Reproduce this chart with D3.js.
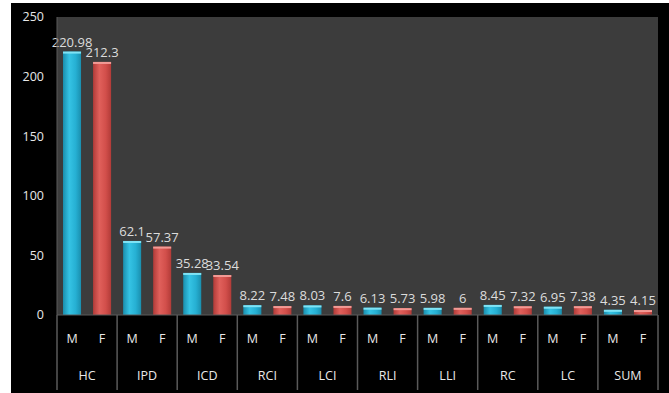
<!DOCTYPE html>
<html><head><meta charset="utf-8">
<script src="https://cdn.jsdelivr.net/npm/d3@7"></script>
<style>html,body{margin:0;padding:0;background:#fff;}svg{display:block;}</style>
</head><body>
<svg id="c" width="669" height="393"></svg>
<script>
const categories = ["HC","IPD","ICD","RCI","LCI","RLI","LLI","RC","LC","SUM"];
const genders = ["M","F"];
const maleValues = [220.98,62.1,35.28,8.22,8.03,6.13,5.98,8.45,6.95,4.35];
const femaleValues = [212.3,57.37,33.54,7.48,7.6,5.73,6,7.32,7.38,4.15];
const maleLabels = ["220.98","62.1","35.28","8.22","8.03","6.13","5.98","8.45","6.95","4.35"];
const femaleLabels = ["212.3","57.37","33.54","7.48","7.6","5.73","6","7.32","7.38","4.15"];
const yTicks = [0,50,100,150,200,250];

const svg = d3.select("#c");
const W = 669, H = 393;
const plot = {left:57, right:658, top:17, bottom:315};

svg.append("rect").attr("x",11).attr("y",3).attr("width",W-11).attr("height",H-3).attr("fill","#000");
svg.append("rect").attr("x",plot.left).attr("y",plot.top).attr("width",plot.right-plot.left).attr("height",plot.bottom-plot.top).attr("fill","#3c3c3c");

const defs = svg.append("defs");
function grad(id, dark, mid, light){
  const g = defs.append("linearGradient").attr("id",id).attr("x1","0").attr("x2","1").attr("y1","0").attr("y2","0");
  g.append("stop").attr("offset","0%").attr("stop-color",dark);
  g.append("stop").attr("offset","35%").attr("stop-color",light);
  g.append("stop").attr("offset","70%").attr("stop-color",mid);
  g.append("stop").attr("offset","100%").attr("stop-color",dark);
}
grad("gM","#1a8fae","#26b0d3","#35c3e4");
grad("gF","#b23b38","#d24f4b","#e0605b");

const x0 = d3.scaleBand().domain(categories).range([plot.left,plot.right]).padding(0);
const x1 = d3.scaleBand().domain(genders).range([0,x0.bandwidth()]).paddingInner(0.4).paddingOuter(0.2);
const y = d3.scaleLinear().domain([0,250]).range([plot.bottom,plot.top]);

// y axis labels
svg.append("g").selectAll("text").data(yTicks).join("text")
  .attr("x",44).attr("y",d=>y(d)).attr("dy","0.35em").attr("text-anchor","end")
  .attr("fill","#e8e8e8").attr("font-family","'Open Sans',Arial,sans-serif").attr("font-size",12.5)
  .text(d=>d);

const data = categories.map((c,i)=>({c, vals:[
  {g:"M", v:maleValues[i], l:maleLabels[i]},
  {g:"F", v:femaleValues[i], l:femaleLabels[i]}]}));

const groups = svg.append("g").selectAll("g").data(data).join("g")
  .attr("transform",d=>`translate(${x0(d.c)},0)`);

groups.selectAll("rect.bar").data(d=>d.vals).join("rect").attr("class","bar")
  .attr("x",d=>x1(d.g)).attr("width",x1.bandwidth())
  .attr("y",d=>y(d.v)).attr("height",d=>plot.bottom-y(d.v))
  .attr("fill",d=>d.g==="M"?"url(#gM)":"url(#gF)");
groups.selectAll("rect.top").data(d=>d.vals).join("rect").attr("class","top")
  .attr("x",d=>x1(d.g)).attr("width",x1.bandwidth())
  .attr("y",d=>y(d.v)).attr("height",2)
  .attr("fill",d=>d.g==="M"?"#7fe3f5":"#f29a95");

groups.selectAll("text.val").data(d=>d.vals).join("text").attr("class","val")
  .attr("x",d=>x1(d.g)+x1.bandwidth()/2).attr("y",d=>y(d.v)-5)
  .attr("text-anchor","middle").attr("fill","#dcdcdc")
  .attr("font-family","'Open Sans',Arial,sans-serif").attr("font-size",13)
  .text(d=>d.l);

// category axis
groups.selectAll("text.g").data(d=>d.vals).join("text").attr("class","g")
  .attr("x",d=>x1(d.g)+x1.bandwidth()/2).attr("y",343).attr("text-anchor","middle")
  .attr("fill","#e8e8e8").attr("font-family","'Open Sans',Arial,sans-serif").attr("font-size",12.5)
  .text(d=>d.g);
groups.append("text").attr("x",x0.bandwidth()/2).attr("y",380).attr("text-anchor","middle")
  .attr("fill","#e8e8e8").attr("font-family","'Open Sans',Arial,sans-serif").attr("font-size",12.5)
  .text(d=>d.c);

const seps = categories.map(c=>x0(c)).concat([plot.right]);
svg.append("g").selectAll("line").data(seps).join("line")
  .attr("x1",d=>d).attr("x2",d=>d).attr("y1",plot.bottom).attr("y2",390)
  .attr("stroke","#5a5a5a").attr("stroke-width",1.5);
svg.append("line").attr("x1",plot.left).attr("x2",plot.left).attr("y1",plot.top).attr("y2",plot.bottom)
  .attr("stroke","#5a5a5a").attr("stroke-width",1);
svg.append("line").attr("x1",plot.left).attr("x2",plot.right).attr("y1",plot.bottom).attr("y2",plot.bottom)
  .attr("stroke","#5a5a5a").attr("stroke-width",1);
</script>
</body></html>
